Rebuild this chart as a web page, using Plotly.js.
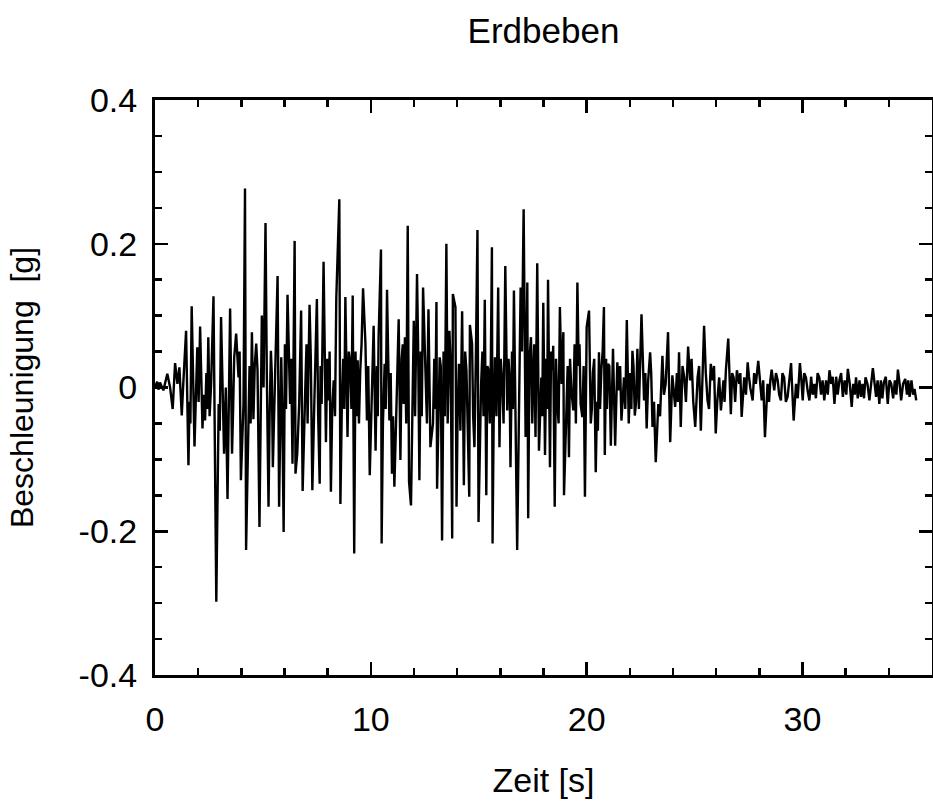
<!DOCTYPE html>
<html>
<head>
<meta charset="utf-8">
<script src="https://cdn.plot.ly/plotly-3.0.1.min.js"></script>
<style>html,body{margin:0;padding:0;background:#fff;}#chart{width:933px;height:811px;}</style>
</head>
<body>
<div id="chart"></div>
<script>
// Zeit [s] and Beschleunigung [g], in four time segments
const time1 = [0,0.10,0.16,0.23,0.39,0.57,0.70,0.82,0.93,1.04,
  1.13,1.24,1.31,1.44,1.55,1.60,1.64,1.70,1.83,1.96,
  2.02,2.09,2.20,2.26,2.32,2.38,2.42,2.47,2.53,2.60,
  2.71,2.84,2.95,3.00,3.06,3.12,3.20,3.28,3.36,3.48,
  3.57,3.62,3.67,3.76,3.87,3.92,3.98,4.10,4.17,4.22,
  4.33,4.38,4.43,4.49,4.56,4.62,4.69,4.75,4.84,4.95,
  5.03,5.12,5.18,5.26,5.31,5.37,5.41,5.46,5.57,5.68,
  5.75,5.85,5.90,5.96,6.02,6.07,6.14,6.20,6.26,6.31,
  6.37,6.47,6.51,6.59,6.68,6.77,6.84,6.96,7.02,7.07,
  7.11,7.16,7.22,7.29,7.38,7.44,7.50,7.56,7.63,7.67,
  7.72,7.81,7.92,7.98,8.04,8.09,8.15,8.21,8.28,8.34,
  8.40,8.54,8.59];
const accel1 = [0,0.008,-0.003,0.007,-0.004,0.019,0,-0.030,0.034,0.005,
  0.028,-0.039,0.005,0.079,-0.108,-0.020,-0.050,0.113,-0.082,0.056,
  -0.020,0.085,-0.057,-0.010,-0.046,0.020,-0.030,0.070,-0.040,0.005,
  0.127,-0.298,-0.023,-0.060,0.098,0.030,-0.092,0,-0.155,0.110,
  -0.092,-0.030,0.042,0.075,0.014,0.050,-0.129,-0.023,0.277,-0.226,
  -0.023,0.030,-0.050,0.077,-0.044,0.030,0.061,0.024,-0.194,0.100,
  0,0.229,0.020,-0.166,-0.040,0.051,0.020,-0.111,0.024,0.155,
  -0.166,0.042,-0.040,-0.201,0.060,-0.030,0.129,0.050,-0.023,0.040,
  -0.106,0.204,-0.120,-0.092,-0.023,0.107,-0.144,-0.004,0.060,-0.050,
  0.030,0.115,0.040,-0.143,-0.023,0.050,0.123,-0.040,-0.134,0.030,
  -0.023,0.175,-0.076,0.040,-0.018,0.050,-0.145,-0.030,0.010,-0.040,
  0.125,0.262,-0.162];

const time2 = [8.66,8.72,8.77,8.82,8.92,8.98,9.05,9.10,9.16,9.23,
  9.29,9.34,9.39,9.45,9.51,9.57,9.64,9.75,9.82,9.88,
  9.95,10.00,10.05,10.13,10.22,10.28,10.32,10.36,10.47,10.50,
  10.56,10.64,10.69,10.75,10.80,10.86,10.92,10.98,11.03,11.09,
  11.15,11.21,11.29,11.37,11.43,11.48,11.52,11.58,11.64,11.71,
  11.77,11.86,11.92,11.99,12.05,12.14,12.19,12.25,12.31,12.36,
  12.42,12.53,12.60,12.67,12.76,12.88,12.94,12.99,13.04,13.07,
  13.13,13.19,13.24,13.30,13.37,13.43,13.50,13.56,13.64,13.70,
  13.77,13.80,13.92,13.97,14.02,14.08,14.15,14.23,14.31,14.37,
  14.43,14.49,14.56,14.59,14.69,14.74,14.80,14.87,14.94,14.99,
  15.05,15.11,15.17,15.22,15.28,15.35,15.40,15.45,15.51,15.56,
  15.61,15.64,15.69,15.75,15.82,15.90,15.96,16.02,16.09,16.15,
  16.23,16.32,16.38,16.43,16.47,16.54,16.58,16.63,16.78,16.85,
  16.94,17.00,17.08,17.17,17.25,17.29,17.35,17.42,17.48];
const accel2 = [-0.018,0.040,-0.030,0.126,-0.069,0.050,0.033,-0.030,0.128,-0.231,
  0.050,-0.040,0.038,-0.050,0.024,0.060,0.138,0.061,-0.046,0.030,
  -0.122,-0.060,-0.013,0.086,-0.088,0.030,-0.040,0.070,0.192,-0.217,
  -0.050,0.033,-0.030,0.136,0.050,-0.046,0.020,-0.120,-0.040,-0.138,
  -0.070,0.014,0.095,-0.101,0.040,0.060,-0.023,0.070,-0.050,0.225,
  -0.131,-0.164,-0.030,0.093,-0.040,0.158,0.060,-0.129,0.050,-0.040,
  0.139,0.005,-0.050,0.109,-0.083,-0.050,0.040,-0.030,0.119,-0.141,
  -0.060,0.042,0.030,-0.213,0.050,-0.040,0.200,-0.050,0.079,0.030,
  -0.210,0.130,0.112,-0.166,-0.040,0.033,-0.060,0.106,-0.136,0.050,
  0.024,-0.040,-0.152,0.087,0.061,-0.040,-0.083,0.050,0.219,-0.187,
  -0.060,0.005,0.050,-0.040,0.122,-0.150,0.030,0.024,-0.050,0.040,
  0.195,-0.217,-0.050,0.042,-0.040,0.139,-0.083,0.040,0.005,-0.050,
  0.169,-0.032,0.040,0.010,-0.111,0.050,-0.030,0.135,-0.226,-0.040,
  0.139,0.050,0.248,-0.069,0.146,-0.182,0.040,0.070,-0.050];

const time3 = [17.52,17.57,17.63,17.71,17.79,17.90,17.94,17.99,18.07,18.13,
  18.17,18.21,18.30,18.35,18.41,18.45,18.52,18.58,18.64,18.70,
  18.76,18.84,18.92,18.95,19.07,19.12,19.18,19.23,19.29,19.38,
  19.44,19.50,19.57,19.63,19.67,19.72,19.80,19.86,19.92,20.00,
  20.11,20.19,20.24,20.29,20.35,20.42,20.48,20.52,20.57,20.62,
  20.68,20.74,20.80,20.84,20.90,20.94,20.99,21.05,21.12,21.22,
  21.32,21.42,21.50,21.55,21.61,21.67,21.73,21.79,21.86,21.95,
  22.02,22.07,22.12,22.17,22.23,22.29,22.35,22.42,22.48,22.54,
  22.66,22.72,22.78,22.85,22.94,22.99,23.05,23.12,23.20,23.26,
  23.32,23.40,23.46,23.51,23.58,23.66,23.77,23.87,23.97,24.10,
  24.18,24.23,24.28,24.36,24.44,24.52,24.60,24.70,24.79,24.86,
  24.94,25.03,25.14,25.21,25.29,25.44,25.52,25.60,25.67,25.75,
  25.83,25.90,25.98,26.05,26.14];
const accel3 = [0.014,0.060,-0.069,0.173,-0.088,0.014,-0.040,0.118,-0.094,0.040,
  -0.030,0.150,-0.111,0.050,0.024,0.058,-0.166,0.040,-0.023,-0.050,
  0.112,0.005,0.077,-0.150,-0.023,0.030,-0.097,0.040,-0.004,-0.032,
  0.060,-0.050,0.146,0.030,0.060,-0.023,-0.041,0.030,-0.152,0.084,
  0.107,-0.050,-0.030,0.021,0.040,-0.118,-0.020,-0.060,0.049,-0.030,
  0.024,0.050,0.112,-0.094,0.040,-0.030,0.033,0.030,-0.081,0.054,
  -0.081,0.035,-0.004,0.030,-0.046,-0.020,0.014,-0.030,0.094,-0.050,
  0.020,-0.030,0.051,0.030,-0.039,-0.020,0.054,-0.030,0.040,0.102,
  -0.018,0.020,-0.057,0.010,0.049,0.020,-0.055,-0.020,-0.104,-0.060,
  -0.023,-0.040,0.020,0.044,-0.010,0.005,0.077,-0.076,0.017,-0.027,
  0.020,-0.020,0.049,-0.055,0.030,0.014,-0.020,0.057,0.010,0.040,
  -0.020,-0.055,0.014,0.030,-0.060,0.086,0.020,-0.018,-0.030,0.033,
  0.010,0.030,-0.064,-0.020,0.014];

const time4 = [26.22,26.28,26.34,26.39,26.45,26.56,26.68,26.74,26.81,26.88,
  26.96,27.07,27.12,27.18,27.30,27.38,27.46,27.52,27.58,27.69,
  27.76,27.84,27.95,28.03,28.11,28.18,28.26,28.38,28.45,28.51,
  28.57,28.69,28.77,28.85,28.92,29.00,29.07,29.15,29.23,29.31,
  29.39,29.47,29.59,29.70,29.78,29.88,29.95,30.01,30.08,30.16,
  30.24,30.32,30.40,30.47,30.55,30.62,30.70,30.78,30.86,30.93,
  31.01,31.09,31.17,31.25,31.33,31.40,31.48,31.56,31.63,31.71,
  31.79,31.87,31.95,32.03,32.10,32.19,32.28,32.35,32.42,32.48,
  32.56,32.64,32.71,32.78,32.85,32.92,33.01,33.10,33.18,33.26,
  33.41,33.48,33.56,33.63,33.70,33.77,33.86,33.95,34.03,34.11,
  34.20,34.28,34.35,34.42,34.50,34.57,34.66,34.76,34.84,34.90,
  34.96,35.05,35.12,35.19,35.27];
const accel4 = [-0.032,-0.010,0.010,-0.020,0.024,0.068,-0.037,0.020,0.014,-0.020,
  0.024,0.005,0.020,-0.041,0.014,-0.010,0.035,0.015,0,-0.018,
  0.020,0.005,0.037,0.010,-0.018,0.010,-0.069,0.005,-0.020,0.010,
  0.025,-0.004,0.020,0.010,-0.010,-0.018,0.020,0.014,-0.020,-0.013,
  0.010,0.034,-0.046,0.005,-0.015,0.034,0.010,-0.018,0.020,0.014,
  -0.005,-0.018,0.015,-0.010,0.005,-0.015,0.020,0.014,-0.010,0.010,
  -0.018,0.010,-0.010,0.024,0.005,0.015,-0.023,0.015,-0.010,0.010,
  0.020,-0.013,0.010,-0.010,0.026,0.005,-0.027,0.005,-0.010,0.014,
  -0.015,0.010,-0.013,0.005,-0.015,0.014,0.005,-0.018,0.005,0.027,
  -0.013,0.010,-0.023,0.010,-0.015,0.007,0.015,-0.023,0.010,0.005,
  -0.015,0.010,-0.010,0.025,0.005,-0.018,0.005,0.012,-0.010,0.010,
  -0.013,0.010,-0.010,-0.002,-0.018];

const xTickVals = [0, 10, 20, 30];
const xTickText = ['0', '10', '20', '30'];
const yTickVals = [-0.4, -0.2, 0, 0.2, 0.4];
const yTickText = ['-0.4', '-0.2', '0', '0.2', '0.4'];

const chartTitle = 'Erdbeben';
const xTitle = 'Zeit [s]';
const yTitle = 'Beschleunigung  [g]';

const time = time1.concat(time2, time3, time4);
const accel = accel1.concat(accel2, accel3, accel4);

const FONT = 'Liberation Sans, Arial, Helvetica, sans-serif';

const trace = {
  x: time, y: accel, type: 'scatter', mode: 'lines',
  line: {color: '#000', width: 2.4}, hoverinfo: 'skip', showlegend: false
};

const axisCommon = {
  showline: true, linecolor: '#000', linewidth: 3, mirror: 'ticks',
  ticks: 'inside', ticklen: 13, tickwidth: 2.5, tickcolor: '#000',
  showgrid: false, zeroline: false,
  tickfont: {family: FONT, size: 34, color: '#000'}
};

const layout = {
  width: 933, height: 811,
  margin: {l: 155, r: 1, t: 100, b: 136},
  paper_bgcolor: '#fff', plot_bgcolor: '#fff',
  font: {family: FONT, color: '#000'},
  title: {text: chartTitle, font: {family: FONT, size: 35, color: '#000'},
          x: 0.5, xref: 'paper', xanchor: 'center', y: 1 - 31/811, yanchor: 'middle'},
  xaxis: Object.assign({}, axisCommon, {
    range: [0, 36], tickmode: 'array', tickvals: xTickVals, ticktext: xTickText,
    ticklabelstandoff: 12,
    minor: {dtick: 2, tick0: 0, ticks: 'inside', ticklen: 7, tickwidth: 2.5, tickcolor: '#000', showgrid: false},
    title: {text: xTitle, font: {family: FONT, size: 34, color: '#000'}, standoff: 32}
  }),
  yaxis: Object.assign({}, axisCommon, {
    range: [-0.4, 0.4], tickmode: 'array', tickvals: yTickVals, ticktext: yTickText,
    ticklabelstandoff: 8,
    minor: {dtick: 0.05, tick0: 0, ticks: 'inside', ticklen: 7, tickwidth: 2.5, tickcolor: '#000', showgrid: false},
    title: {text: yTitle, font: {family: FONT, size: 32, color: '#000'}, standoff: 36}
  })
};

Plotly.newPlot('chart', [trace], layout, {displayModeBar: false, staticPlot: true});
</script>
</body>
</html>
